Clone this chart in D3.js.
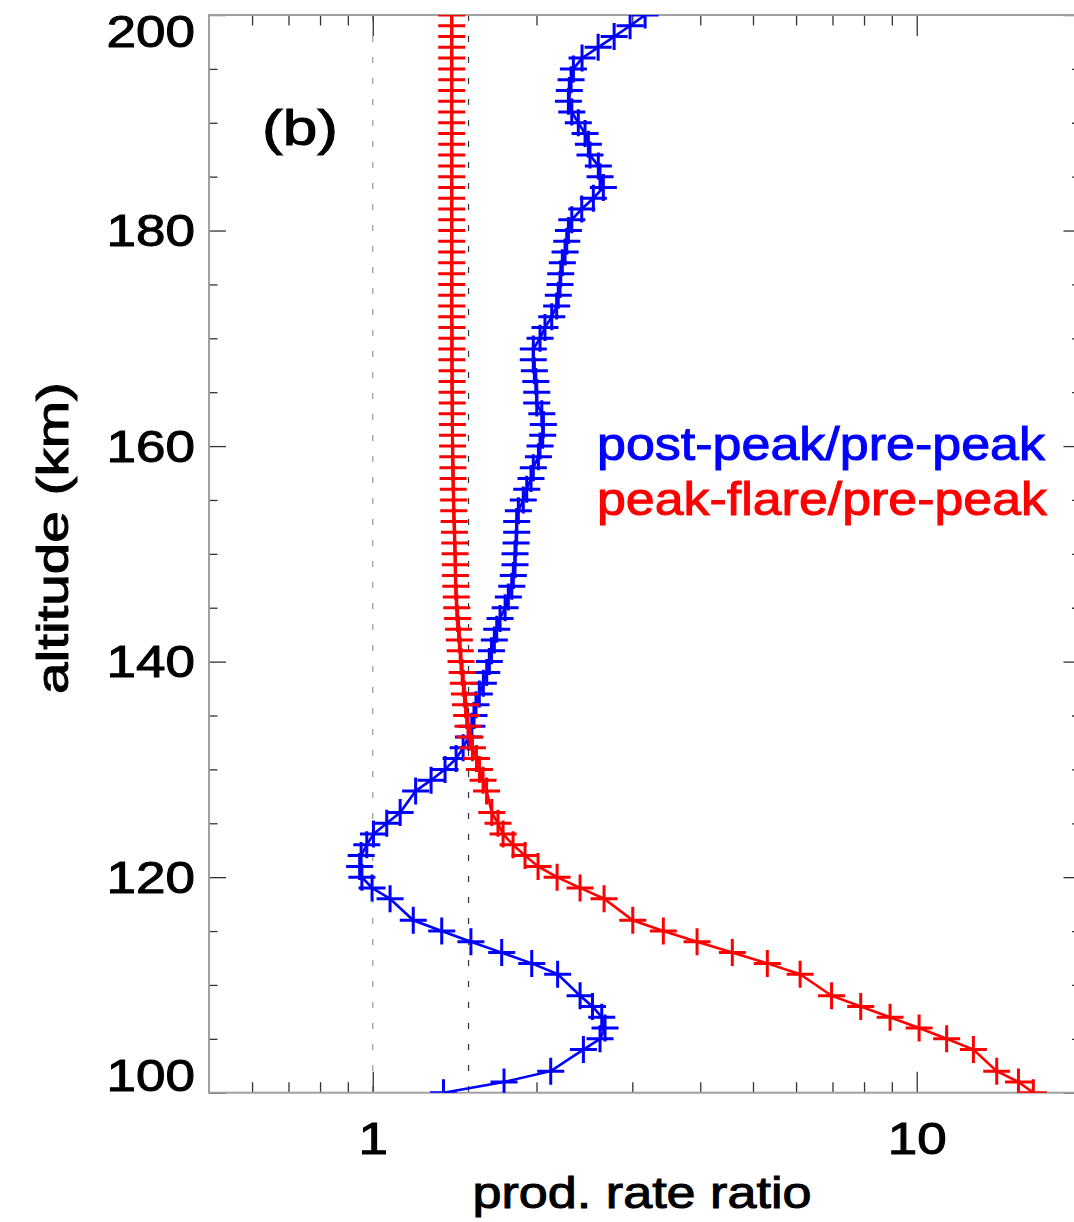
<!DOCTYPE html>
<html>
<head>
<meta charset="utf-8">
<script src="https://cdn.jsdelivr.net/npm/d3@7"></script>
<style>
  body { margin: 0; background: #fff; }
  svg { display: block; overflow: hidden; }
  text { font-family: "Liberation Sans", Arial, Helvetica, sans-serif; stroke-width: 1px; }
</style>
</head>
<body>
<div id="chart_svg"></div>
<script>
// altitude grid of the model (km) - a few levels are missing
var altitudes = [100,101,102,104,105,106,107,108,109,111,112,113,114,115,116,118,119,120,121,122,123,124,125,126,
  128,129,130,131,132,133,134,135,136,137,138,139,140,141,142,143,144,145,146,147,148,149,150,
  151,152,153,154,155,156,157,158,159,160,161,162,163,164,165,166,167,168,169,170,
  171,172,173,174,175,176,177,178,179,180,181,182,183,184,185,186,187,188,189,190,
  191,192,193,194,195,196,197,198,199,200]

// post-peak / pre-peak
var postPeak = [1.349,1.743,2.124,2.439,2.617,2.673,2.636,2.535,2.405,2.187,1.960,1.726,1.515,1.339,1.187,1.076,0.997,0.955,0.946,0.952,0.975,1.003,1.061,1.123,
  1.199,1.280,1.358,1.423,1.466,1.499,1.521,1.535,1.548,1.570,1.597,1.620,1.638,1.653,1.673,1.690,1.714,1.751,1.775,1.801,1.813,1.826,1.826,
  1.834,1.839,1.839,1.852,1.891,1.919,1.954,1.973,2.016,2.030,2.053,2.059,2.045,2.002,2.002,1.994,1.982,1.973,1.973,2.030,
  2.073,2.133,2.178,2.193,2.209,2.216,2.231,2.257,2.273,2.289,2.322,2.422,2.544,2.654,2.617,2.598,2.508,2.491,2.456,2.387,
  2.322,2.289,2.298,2.315,2.338,2.425,2.596,2.778,2.972,3.167]

// peak-flare / pre-peak
var peakFlare = [16.38,15.38,14.03,12.71,11.35,10.10,8.932,7.889,6.973,6.104,5.313,4.581,3.946,3.421,3.006,2.662,2.405,2.182,2.013,1.905,1.811,1.736,1.699,1.655,
  1.619,1.595,1.571,1.551,1.525,1.509,1.497,1.488,1.481,1.474,1.467,1.460,1.453,1.448,1.443,1.438,1.432,1.427,1.424,1.421,1.419,1.418,1.417,
  1.415,1.413,1.411,1.409,1.408,1.406,1.405,1.404,1.403,1.402,1.401,1.401,1.400,1.400,1.399,1.399,1.399,1.398,1.398,1.398,
  1.398,1.397,1.397,1.397,1.397,1.397,1.397,1.397,1.397,1.397,1.397,1.397,1.397,1.397,1.397,1.397,1.397,1.397,1.397,1.397,
  1.397,1.397,1.397,1.397,1.397,1.397,1.397,1.397,1.397,1.397]

var xMajorTicks = [1, 10]
var xMinorTicks = [0.6, 0.7, 0.8, 0.9, 2, 3, 4, 5, 6, 7, 8, 9, 20]
var yMajorTicks = [100, 120, 140, 160, 180, 200]
var yMinorTicks = d3.range(105, 200, 5).filter(function(d) { return d % 20 != 0 })
var refLines = [1, 1.5]
var seriesNames = ["post-peak/pre-peak", "peak-flare/pre-peak"]
var seriesColors = ["#0000ff", "#ff0000"]

var totalWidth = 1074
var totalHeight = 1222
var margin = {top: 15, left: 209},
    width = 871.5,
    height = 1077.7;

var svg = d3.select("#chart_svg")
  .append("svg")
  .attr("width", totalWidth)
  .attr("height", totalHeight)

var g = svg.append("g")
  .attr("transform", "translate(" + margin.left + "," + margin.top + ")")

var x = d3.scaleLog().domain([0.5, 20]).range([0, width])
var y = d3.scaleLinear().domain([100, 200]).range([height, 0])

svg.append("defs").append("clipPath").attr("id", "plotclip")
  .append("rect").attr("width", width).attr("height", height)

// dashed reference lines
g.selectAll(".ref")
  .data(refLines)
  .enter().append("line")
  .attr("x1", function(d) { return x(d) }).attr("x2", function(d) { return x(d) })
  .attr("y1", 0).attr("y2", height)
  .attr("stroke", function(d, i) { return i == 0 ? "#999" : "#333" })
  .attr("stroke-width", 1.2)
  .attr("stroke-dasharray", "6,15")

// axes: ticks on all four sides, labels only bottom / left
function styleAxis(sel) {
  sel.select(".domain").remove()
  sel.selectAll(".tick line").attr("stroke", "#333").attr("stroke-width", 1.3)
}

var xb = g.append("g").attr("transform", "translate(0," + height + ")")
xb.append("g").attr("class", "xlab").call(d3.axisBottom(x).tickValues(xMajorTicks).tickSize(-21).tickPadding(30).tickFormat(d3.format("d"))).call(styleAxis)
xb.append("g").call(d3.axisBottom(x).tickValues(xMinorTicks).tickSize(-10.5).tickFormat("")).call(styleAxis)
g.append("g").call(d3.axisTop(x).tickValues(xMajorTicks).tickSize(-21).tickFormat("")).call(styleAxis)
g.append("g").call(d3.axisTop(x).tickValues(xMinorTicks).tickSize(-10.5).tickFormat("")).call(styleAxis)

var yl = g.append("g")
yl.append("g").attr("class", "ylab").call(d3.axisLeft(y).tickValues(yMajorTicks).tickSize(-17).tickPadding(14).tickFormat(d3.format("d"))).call(styleAxis)
yl.append("g").call(d3.axisLeft(y).tickValues(yMinorTicks).tickSize(-8.5).tickFormat("")).call(styleAxis)
var yr = g.append("g").attr("transform", "translate(" + width + ",0)")
yr.append("g").call(d3.axisRight(y).tickValues(yMajorTicks).tickSize(-17).tickFormat("")).call(styleAxis)
yr.append("g").call(d3.axisRight(y).tickValues(yMinorTicks).tickSize(-8.5).tickFormat("")).call(styleAxis)

// the source font is wider and heavier than Arial: stretch labels to the measured widths
g.selectAll(".tick text")
  .attr("fill", "#000")
  .attr("stroke", "#000")
  .style("font-size", "44px")
  .attr("lengthAdjust", "spacingAndGlyphs")
  .attr("textLength", function(d) { return String(d).length * 29.5 })
// keep the end labels inside the frame
g.select(".ylab").selectAll(".tick text")
  .attr("dy", function(d) { return d == 200 ? "0.72em" : d == 100 ? "-0.05em" : "0.34em" })

// frame
g.append("rect")
  .attr("width", width).attr("height", height)
  .attr("fill", "none").attr("stroke", "#a0a0a0").attr("stroke-width", 2)

// series
var series = [postPeak, peakFlare]
var plot = g.append("g").attr("clip-path", "url(#plotclip)")
var line = d3.line()
  .x(function(d) { return x(d[0]) })
  .y(function(d) { return y(d[1]) })

series.forEach(function(vals, i) {
  var pts = vals.map(function(v, k) { return [v, altitudes[k]] })
  plot.append("path")
    .datum(pts)
    .attr("fill", "none")
    .attr("stroke", seriesColors[i])
    .attr("stroke-width", 2.6)
    .attr("d", line)
  plot.selectAll(".m" + i)
    .data(pts)
    .enter().append("path")
    .attr("transform", function(d) { return "translate(" + x(d[0]) + "," + y(d[1]) + ")" })
    .attr("d", "M-13.5,0H13.5M0,-13.5V13.5")
    .attr("stroke", seriesColors[i])
    .attr("stroke-width", 3)
})

// panel label and legend
g.append("text").attr("x", 53).attr("y", 145 - margin.top).text("(b)")
  .attr("stroke", "#000")
  .style("font-size", "50px")
  .attr("lengthAdjust", "spacingAndGlyphs").attr("textLength", 76)
seriesNames.forEach(function(name, i) {
  g.append("text")
    .attr("x", 597 - margin.left)
    .attr("y", 460 + i * 55 - margin.top)
    .attr("fill", seriesColors[i])
    .attr("stroke", seriesColors[i])
    .style("font-size", "46px")
    .attr("lengthAdjust", "spacingAndGlyphs")
    .attr("textLength", i == 0 ? 448 : 450)
    .text(name)
})

// axis titles
svg.append("text")
  .attr("x", 642).attr("y", 1208)
  .attr("text-anchor", "middle")
  .attr("stroke", "#000")
  .style("font-size", "44px")
  .attr("lengthAdjust", "spacingAndGlyphs")
  .attr("textLength", 339)
  .text("prod. rate ratio")
svg.append("text")
  .attr("transform", "translate(68,538) rotate(-90)")
  .attr("text-anchor", "middle")
  .attr("stroke", "#000")
  .style("font-size", "44px")
  .attr("lengthAdjust", "spacingAndGlyphs")
  .attr("textLength", 312)
  .text("altitude (km)")
</script>
</body>
</html>
